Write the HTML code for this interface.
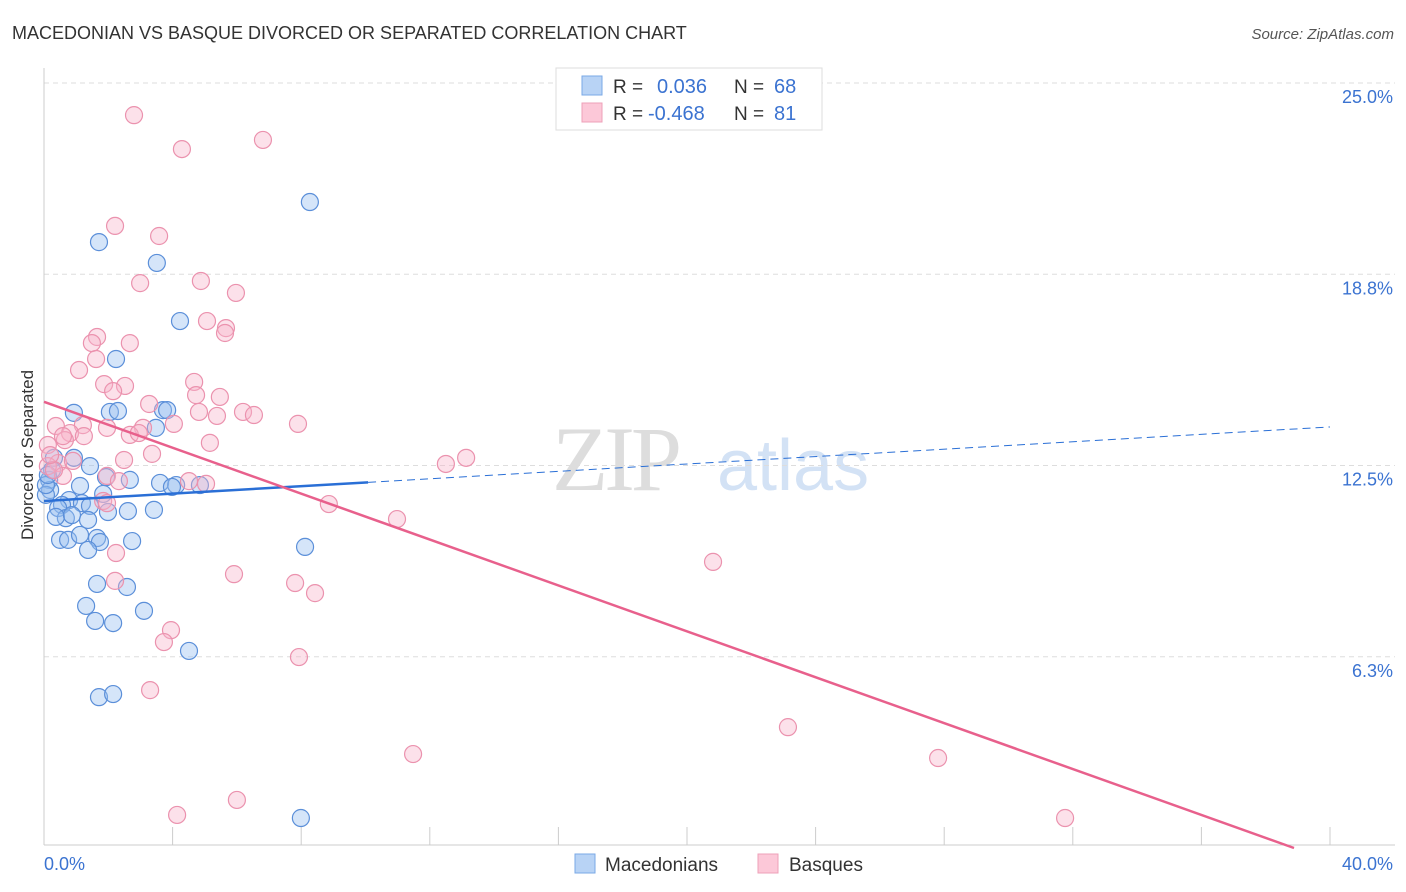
<!DOCTYPE html>
<html><head><meta charset="utf-8"><style>
body{margin:0;background:#fff;font-family:"Liberation Sans",sans-serif}
svg{display:block}
</style></head><body>
<svg id="c" width="1406" height="892" xmlns="http://www.w3.org/2000/svg">
<text x="12" y="39" font-size="18" fill="#333">MACEDONIAN VS BASQUE DIVORCED OR SEPARATED CORRELATION CHART</text>
<text x="1394" y="39" font-size="15" fill="#555" font-style="italic" text-anchor="end">Source: ZipAtlas.com</text>
<g>
<text x="552" y="490" font-size="92" fill="#ddd" font-family="Liberation Serif,serif" letter-spacing="-4">ZIP</text>
<text x="717" y="490" font-size="72" fill="#d3e2f5">atlas</text>
</g>
<g id="grid"></g><g id="axes"></g><g id="marks"></g>
<text transform="translate(33,455) rotate(-90)" font-size="17" fill="#333" text-anchor="middle">Divorced or Separated</text>
<g>
<rect x="556" y="68" width="266" height="62" fill="#fff" stroke="#ddd"/>
<rect x="582" y="76" width="20" height="19" fill="#b8d3f5" stroke="#7aa8e6"/>
<rect x="582" y="103" width="20" height="19" fill="#fcc8d8" stroke="#eea0b8"/>
<text x="613" y="93" font-size="19" fill="#333">R =</text><text x="657" y="93" font-size="20" fill="#3b73d1">0.036</text>
<text x="734" y="93" font-size="19" fill="#333">N =</text><text x="774" y="93" font-size="20" fill="#3b73d1">68</text>
<text x="613" y="120" font-size="19" fill="#333">R =</text><text x="648" y="120" font-size="20" fill="#3b73d1">-0.468</text>
<text x="734" y="120" font-size="19" fill="#333">N =</text><text x="774" y="120" font-size="20" fill="#3b73d1">81</text>
</g>
<g>
<rect x="575" y="854" width="20" height="19" fill="#b8d3f5" stroke="#7aa8e6"/>
<text x="605" y="871" font-size="19" fill="#333">Macedonians</text>
<rect x="758" y="854" width="20" height="19" fill="#fcc8d8" stroke="#eea0b8"/>
<text x="789" y="871" font-size="19" fill="#333">Basques</text>
</g>
</svg>
<script>
const yTicks=[25,18.75,12.5,6.25];
const yTickLabels=["25.0%","18.8%","12.5%","6.3%"];
const xTicks=[0,4,8,12,16,20,24,28,32,36,40];
const macX=[8.27,1.71,3.51,4.23,2.24,0.93,2.05,2.30,3.70,3.83,3.48,0.31,1.43,0.93,1.93,2.67,3.61,4.11,3.98,4.85,0.16,0.25,0.19,0.78,1.12,1.18,1.43,1.84,0.56,0.44,0.68,0.37,0.87,1.37,0.50,0.75,1.12,1.65,2.61,3.42,1.74,1.37,2.74,8.12,1.65,2.58,1.31,3.11,1.59,2.15,4.51,1.71,2.15,7.99,0.06,0.06,0.12,1.99];
const macY=[21.11,19.80,19.12,17.22,15.98,14.22,14.25,14.28,14.31,14.31,13.73,12.75,12.48,12.75,12.12,12.03,11.93,11.86,11.80,11.86,12.03,12.35,11.70,11.37,11.83,11.27,11.18,11.57,11.21,11.11,10.78,10.82,10.88,10.72,10.07,10.07,10.23,10.13,11.01,11.05,10.00,9.74,10.03,9.84,8.63,8.53,7.91,7.75,7.42,7.35,6.44,4.93,5.03,0.98,11.54,11.86,12.19,10.98];
const basX=[2.80,6.81,4.29,2.21,3.58,2.99,4.88,5.97,5.07,5.66,5.63,1.65,1.49,2.67,1.62,1.09,1.87,2.52,2.15,4.67,4.73,5.47,3.27,6.19,6.53,5.38,4.82,4.04,3.08,7.90,0.37,1.21,0.81,1.24,0.65,1.96,2.67,2.95,0.59,5.16,3.36,0.44,0.90,2.49,0.12,0.59,0.31,1.96,2.33,4.51,5.04,12.50,13.13,8.86,10.98,1.84,1.96,20.81,5.91,2.24,2.21,7.81,8.43,3.95,3.73,7.93,3.30,23.14,11.48,27.81,6.00,4.14,31.76,0.12,0.19];
const basY=[23.95,23.14,22.84,20.33,20.00,18.46,18.53,18.14,17.22,16.99,16.83,16.70,16.50,16.50,15.98,15.62,15.16,15.10,14.93,15.23,14.80,14.74,14.51,14.25,14.15,14.12,14.25,13.86,13.73,13.86,13.79,13.82,13.56,13.46,13.33,13.73,13.50,13.56,13.46,13.24,12.88,12.58,12.65,12.68,12.48,12.16,12.35,12.16,11.99,11.99,11.90,12.55,12.75,11.24,10.75,11.34,11.27,9.35,8.95,9.64,8.73,8.66,8.33,7.12,6.73,6.24,5.16,3.95,3.07,2.94,1.57,1.08,0.98,13.17,12.84];
const macTrend=[11.34,13.76]; const macSolidEnd=10.08;
const basTrend=[14.58,-0.375];
const NS="http://www.w3.org/2000/svg";
const X=v=>44+v*32.15, Y=v=>848-v*30.6;
function mk(t,a,p){const e=document.createElementNS(NS,t);for(const k in a)e.setAttribute(k,a[k]);document.getElementById(p).appendChild(e);return e;}
yTicks.forEach((t,i)=>{
 const g=mk('line',{x1:44,x2:1395,y1:Y(t),y2:Y(t),stroke:'#ddd','stroke-dasharray':'5,4'},'grid');
 
 
 const l=mk('text',{x:1393,y:Y(t)+20,'font-size':18,fill:'#3b73d1','text-anchor':'end'},'axes');l.textContent=yTickLabels[i];
 
 
});
const ax=mk('line',{x1:44,x2:1395,y1:845,y2:845,stroke:'#ccc'},'axes');


const ay=mk('line',{x1:44,x2:44,y1:68,y2:845,stroke:'#ccc'},'axes');


xTicks.forEach(t=>{const e=mk('line',{x1:X(t),x2:X(t),y1:827,y2:845,stroke:'#ccc'},'axes');
 
 });
let t1=mk('text',{x:44,y:870,'font-size':18,fill:'#3b73d1'},'axes');t1.textContent='0.0%';


let t2=mk('text',{x:1393,y:870,'font-size':18,fill:'#3b73d1','text-anchor':'end'},'axes');t2.textContent='40.0%';


macX.forEach((x,i)=>{const c=mk('circle',{cx:X(x),cy:Y(macY[i]),r:8.5,fill:'rgba(150,190,240,0.4)',stroke:'#5b8fd9','stroke-width':1.2},'marks');
 
 });
basX.forEach((x,i)=>{const c=mk('circle',{cx:X(x),cy:Y(basY[i]),r:8.5,fill:'rgba(248,180,202,0.4)',stroke:'#eb92ae','stroke-width':1.2},'marks');
 
 });
const mv=x=>macTrend[0]+(macTrend[1]-macTrend[0])*x/40;
let l1=mk('line',{x1:X(0),y1:Y(mv(0)),x2:X(macSolidEnd),y2:Y(mv(macSolidEnd)),stroke:'#2a6fd6','stroke-width':2.5},'marks');


let l2=mk('line',{x1:X(macSolidEnd),y1:Y(mv(macSolidEnd)),x2:X(40),y2:Y(mv(40)),stroke:'#2a6fd6','stroke-width':1,'stroke-dasharray':'8,5'},'marks');


const xEnd=-basTrend[0]/basTrend[1];
let l3=mk('line',{x1:X(0),y1:Y(basTrend[0]),x2:X(xEnd),y2:Y(0),stroke:'#e8608c','stroke-width':2.5},'marks');


</script>
</body></html>
